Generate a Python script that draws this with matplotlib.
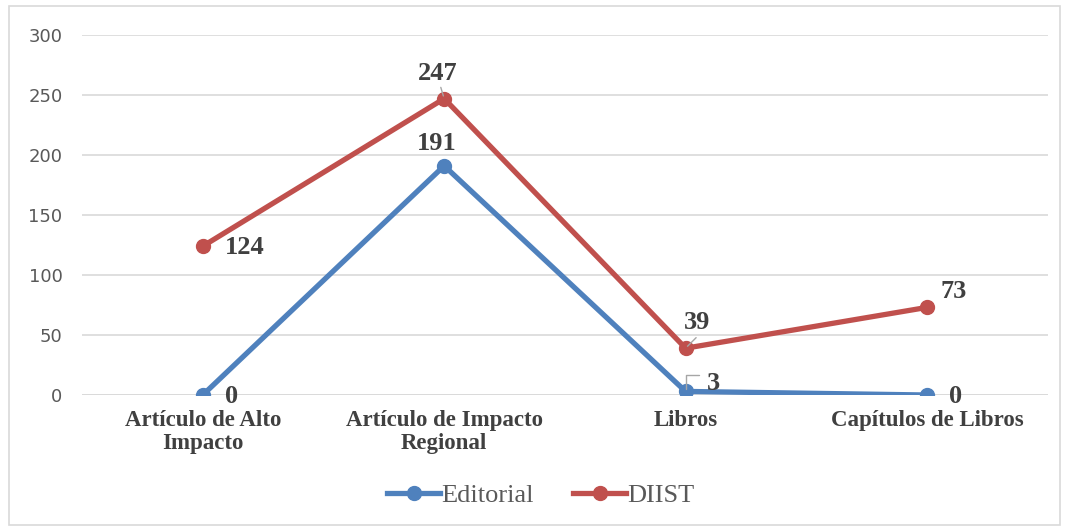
import matplotlib.pyplot as plt
from matplotlib.patches import Rectangle

# data
categorias = ["Artículo de Alto\nImpacto", "Artículo de Impacto\nRegional", "Libros", "Capítulos de Libros"]
editorial = [0, 191, 3, 0]
diist = [124, 247, 39, 73]

fig = plt.figure(figsize=(10.67, 5.29), dpi=100)
ax = fig.add_axes([0.0769, 0.2533, 0.905, 0.6805])

x = range(len(categorias))
ax.plot(x, editorial, color="#4F81BD", lw=3.8, marker="o", ms=10, label="Editorial", zorder=3)
ax.plot(x, diist, color="#C0504D", lw=3.8, marker="o", ms=10, label="DIIST", zorder=3)

ax.set_xlim(-0.5, 3.5)
ax.set_ylim(0, 300)
ax.set_yticks(range(0, 301, 50))
ax.grid(axis="y", color="#D9D9D9", lw=1.2)
ax.set_axisbelow(True)
for s in ax.spines.values():
    s.set_visible(False)
ax.axhline(0, color="#D9D9D9", lw=1.2, zorder=1)
ax.tick_params(length=0)
ax.tick_params(axis="y", labelsize=13, labelcolor="#595959", pad=14)
ax.set_xticks(list(x))
ax.set_xticklabels(categorias, fontfamily="Liberation Serif", fontweight="bold",
                   fontsize=16.5, color="#404040", linespacing=1.1)
ax.tick_params(axis="x", pad=11)

lbl = dict(fontfamily="Liberation Serif", fontweight="bold", fontsize=19, color="#404040")
# etiquetas Editorial
offs_e = [(16, -1, "left", "center"), (-5, 8, "center", "bottom"), (15, 6, "left", "center"), (16, -1, "left", "center")]
for i, v in enumerate(editorial):
    dx, dy, ha, va = offs_e[i]
    ax.annotate(str(v), (i, v), xytext=(dx, dy), textcoords="offset points", ha=ha, va=va, **lbl)
# etiquetas DIIST
offs_d = [(16, -1, "left", "center"), (-5, 10, "center", "bottom"), (8, 10, "center", "bottom"), (10, 3, "left", "bottom")]
for i, v in enumerate(diist):
    dx, dy, ha, va = offs_d[i]
    ax.annotate(str(v), (i, v), xytext=(dx, dy), textcoords="offset points", ha=ha, va=va, **lbl)

# lineas guia
ax.annotate("", (1, 247), xytext=(-3, 10), textcoords="offset points",
            arrowprops=dict(arrowstyle="-", color="#A6A6A6", lw=1))
ax.annotate("", (2, 39), xytext=(9, 9), textcoords="offset points",
            arrowprops=dict(arrowstyle="-", color="#A6A6A6", lw=1))
ax.annotate("", (2, 3), xytext=(12, 12), textcoords="offset points",
            arrowprops=dict(arrowstyle="-", color="#A6A6A6", lw=1, connectionstyle="angle,angleA=0,angleB=90,rad=0"))

leg = fig.legend(loc="center", bbox_to_anchor=(0.507, 0.064), ncol=2, frameon=False,
                 prop={"family": "Liberation Serif", "size": 19}, handlelength=2.0,
                 columnspacing=1.5, handletextpad=0.05)
for t in leg.get_texts():
    t.set_color("#595959")

fig.patches.append(Rectangle((0.008, 0.008), 0.985, 0.98, transform=fig.transFigure,
                             fill=False, edgecolor="#D9D9D9", lw=1.2))

fig.savefig("out.png", dpi=100)
